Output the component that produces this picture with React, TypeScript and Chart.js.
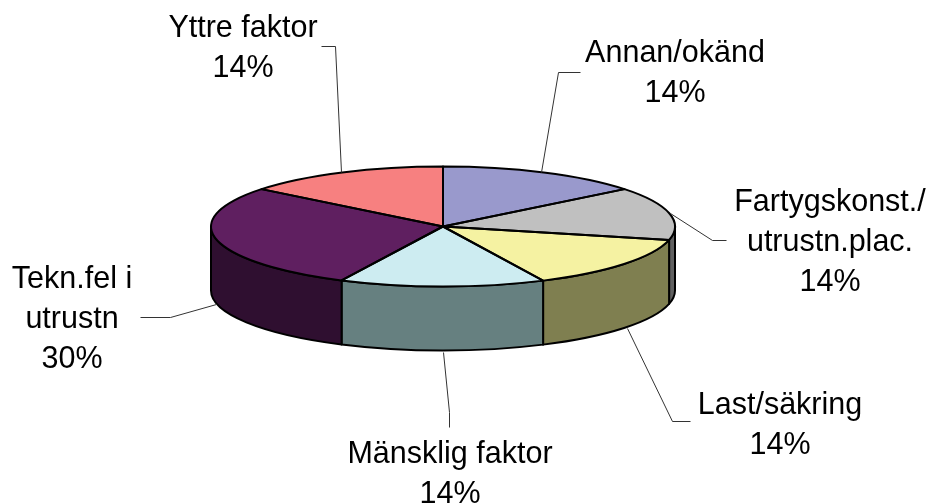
import React, { useEffect, useRef } from "react";
import { Chart, registerables } from "chart.js";

Chart.register(...registerables);

// Printed labels, as in the picture.
const categories = ["Annan/okänd", "Fartygskonst./\nutrustn.plac.", "Last/säkring", "Mänsklig faktor", "Tekn.fel i\nutrustn", "Yttre faktor"];
const printedPercent = [14, 14, 14, 14, 30, 14];
const sliceShares = [14.3, 14.3, 14.3, 14.3, 28.5, 14.3];
const topColors = ["#9999cc", "#c0c0c0", "#f5f2a2", "#cdecf1", "#5f1f60", "#f78080"];
const sideColors = ["#4c4c66", "#606060", "#7f7f50", "#668080", "#2f0f30", "#7c4040"];

const RADIUS = 232;
const SQUASH = 60 / 232;
const DEPTH = 64;
const FONT = '30.5px "Liberation Sans", Arial, sans-serif';
const LINE_HEIGHT = 40;

// Text layout: centre x and first baseline of each label; order follows categories.
const labelAnchors = [
  [675, 62], [830, 211], [780, 414], [450, 463], [72, 288], [243, 37],
];
const leaderLines = [
  [[580, 72], [558, 72], [541, 172]],
  [[670, 213], [712, 240], [726, 240]],
  [[627, 328], [672, 421], [690, 421]],
  [[443, 352], [449, 412], [449, 427]],
  [[140, 317], [170, 317], [216, 304]],
  [[321, 46], [335, 46], [341, 172]],
];

const pie3d = {
  id: "pie3d",
  beforeDatasetsDraw(chart: any) {
    const { ctx } = chart;
    const arcs = chart.getDatasetMeta(0).data;
    const { x: cx, y: cy, outerRadius: r } = arcs[0];
    // Side wall of the visible (front) half of every slice
    ctx.save();
    ctx.lineWidth = 2;
    ctx.strokeStyle = "#000";
    ctx.lineJoin = "round";
    arcs.forEach((arc: any, i: number) => {
      const a = Math.max(arc.startAngle, 0);
      const b = Math.min(arc.endAngle, Math.PI);
      if (a >= b) return;
      ctx.beginPath();
      ctx.ellipse(cx, cy, r, r * SQUASH, 0, a, b);
      ctx.ellipse(cx, cy + DEPTH, r, r * SQUASH, 0, b, a, true);
      ctx.closePath();
      ctx.fillStyle = sideColors[i];
      ctx.fill();
      ctx.stroke();
    });
    ctx.restore();
    // Squash the library's own arcs into the top face
    ctx.save();
    ctx.translate(cx, cy);
    ctx.scale(1, SQUASH);
    ctx.translate(-cx, -cy);
  },
  afterDatasetsDraw(chart: any) {
    const { ctx } = chart;
    ctx.restore();
    const arcs = chart.getDatasetMeta(0).data;
    ctx.save();
    ctx.lineWidth = 2;
    ctx.strokeStyle = "#000";
    ctx.lineJoin = "round";
    arcs.forEach((arc: any) => {
      ctx.beginPath();
      ctx.moveTo(arc.x, arc.y);
      ctx.ellipse(arc.x, arc.y, arc.outerRadius, arc.outerRadius * SQUASH, 0, arc.startAngle, arc.endAngle);
      ctx.closePath();
      ctx.stroke();
    });
    ctx.restore();
  },
  afterDraw(chart: any) {
    const { ctx } = chart;
    ctx.save();
    ctx.strokeStyle = "#333";
    ctx.lineWidth = 1;
    leaderLines.forEach((pts) => {
      ctx.beginPath();
      pts.forEach(([x, y], i) => (i ? ctx.lineTo(x + 0.5, y + 0.5) : ctx.moveTo(x + 0.5, y + 0.5)));
      ctx.stroke();
    });
    ctx.fillStyle = "#000";
    ctx.font = FONT;
    ctx.textAlign = "center";
    ctx.textBaseline = "alphabetic";
    categories.forEach((name, i) => {
      const lines = [...name.split("\n"), printedPercent[i] + "%"];
      lines.forEach((t, j) => ctx.fillText(t, labelAnchors[i][0], labelAnchors[i][1] + j * LINE_HEIGHT));
    });
    ctx.restore();
  },
};

export default function App() {
  const ref = useRef<HTMLCanvasElement>(null);
  useEffect(() => {
    const chart = new Chart(ref.current!, {
      type: "pie",
      data: {
        labels: categories,
        datasets: [{ data: sliceShares, backgroundColor: topColors, borderWidth: 0, radius: RADIUS, clip: false } as any],
      },
      options: {
        responsive: false,
        animation: false,
        layout: { padding: { right: 44, bottom: 51 } },
        plugins: { legend: { display: false }, tooltip: { enabled: false } },
      },
      plugins: [pie3d],
    } as any);
    return () => chart.destroy();
  }, []);
  return (
    <div style={{ position: "absolute", left: 0, top: 0, width: 930, height: 504, background: "#fff", overflow: "hidden" }}>
      <canvas ref={ref} width={930} height={504} style={{ display: "block" }} />
    </div>
  );
}
